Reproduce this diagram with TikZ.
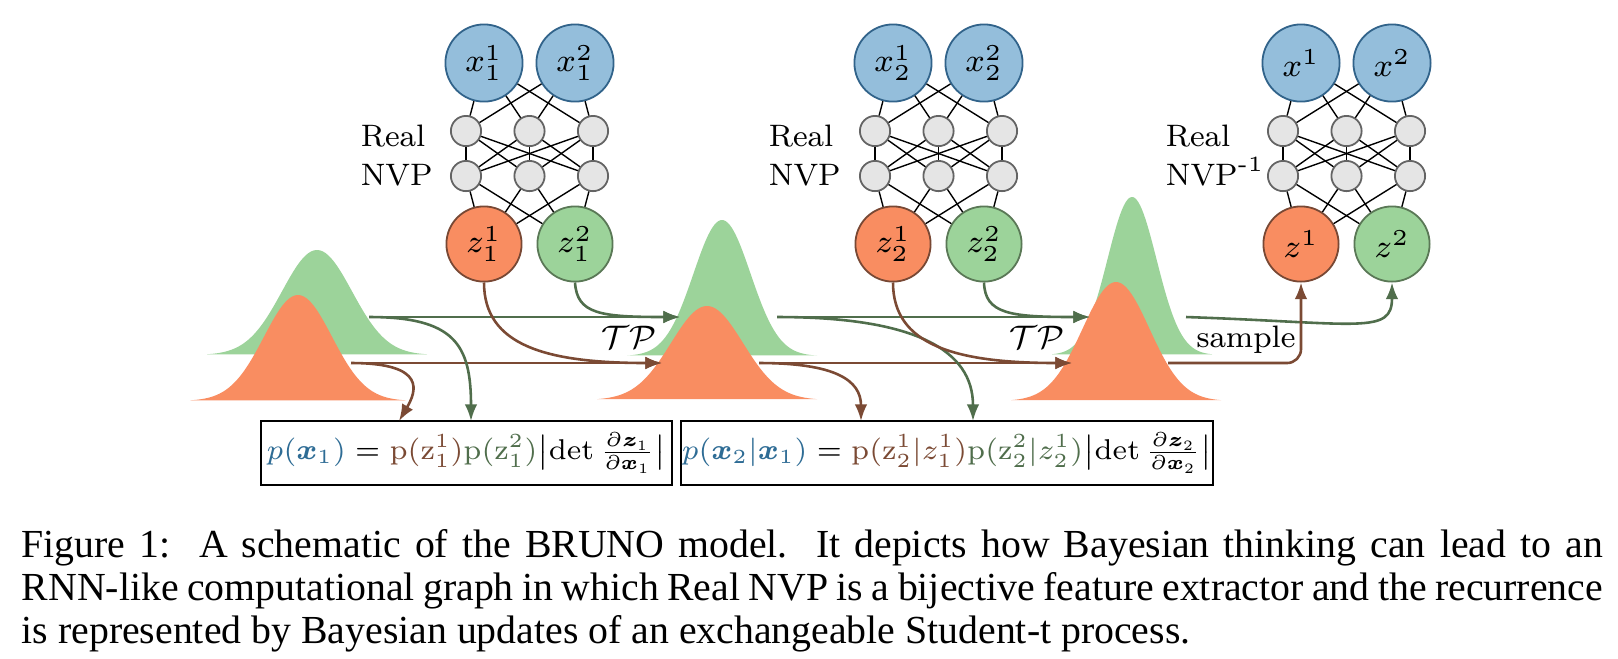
\RequirePackage{fix-cm}
\documentclass[tikz,border=0pt]{standalone}
\usepackage{amsmath,bm}
\usepackage{fontspec}
\newfontfamily\capfont{Liberation Serif}
\usetikzlibrary{arrows.meta}
\definecolor{bluefill}{RGB}{148,190,219}
\definecolor{blueline}{RGB}{49,99,138}
\definecolor{grayfill}{RGB}{229,229,229}
\definecolor{grayline}{RGB}{100,100,100}
\definecolor{orfill}{RGB}{249,141,97}
\definecolor{orline}{RGB}{120,72,52}
\definecolor{grfill}{RGB}{156,211,154}
\definecolor{grline}{RGB}{90,120,86}
\definecolor{brarrow}{RGB}{123,74,52}
\definecolor{grarrow}{RGB}{80,110,76}
\definecolor{bluetext}{RGB}{46,108,149}
\newcommand{\diagfont}{\fontsize{7.8}{9.4}\selectfont}
\newcommand{\labfont}{\fontsize{8.2}{9.8}\selectfont}
\newcommand{\eqfont}{\fontsize{7.2}{8.6}\selectfont}
\tikzset{
  xnode/.style={circle, fill=bluefill, draw=blueline, line width=0.45pt, minimum size=19.4pt, inner sep=0pt, font=\labfont},
  hnode/.style={circle, fill=grayfill, draw=grayline, line width=0.45pt, minimum size=7.6pt, inner sep=0pt},
  zanode/.style={circle, fill=orfill, draw=orline, line width=0.45pt, minimum size=18.9pt, inner sep=0pt, font=\labfont},
  zbnode/.style={circle, fill=grfill, draw=grline, line width=0.45pt, minimum size=18.9pt, inner sep=0pt, font=\labfont},
  nnline/.style={draw=black, line width=0.35pt},
  lbl/.style={anchor=base west, inner sep=0pt, font=\diagfont},
  grarr/.style={draw=grarrow, line width=0.65pt, -{Latex[length=4.2pt,width=3.2pt]}},
  brarr/.style={draw=brarrow, line width=0.65pt, -{Latex[length=4.2pt,width=3.2pt]}},
  eqbox/.style={draw=black, line width=0.4pt, inner sep=0pt, minimum height=16.1pt, font=\eqfont},
  capline/.style={anchor=base west, inner sep=0pt, font=\capfont\fontsize{10}{11}\selectfont},
}
% #1 prefix, #2 x of first node, #3 #4 x labels, #5 #6 z labels
\newcommand{\nnet}[6]{%
  \node[xnode] (#1xa) at (#2,63) {$#3$};
  \node[xnode] (#1xb) at ({#2+91},63) {$#4$};
  \foreach \i/\dx in {1/-18,2/45.5,3/109}{%
    \node[hnode] (#1h\i) at ({#2+\dx},131) {};
    \node[hnode] (#1g\i) at ({#2+\dx},176) {};
  }
  \node[zanode] (#1za) at (#2,244) {$#5$};
  \node[zbnode] (#1zb) at ({#2+91},244) {$#6$};
  \foreach \i in {1,2,3}{%
    \draw[nnline] (#1xa) -- (#1h\i);
    \draw[nnline] (#1xb) -- (#1h\i);
    \draw[nnline] (#1za) -- (#1g\i);
    \draw[nnline] (#1zb) -- (#1g\i);
    \foreach \j in {1,2,3}{\draw[nnline] (#1h\i) -- (#1g\j);}
  }
}
% #1 mu, #2 base, #3 amplitude, #4 sigma, #5 half range, #6 colour
\newcommand{\bump}[6]{%
  \fill[#6] plot[domain=-#5:#5, samples=90] ({#1+\x}, {#2-#3*exp(-(\x*\x)/(2*#4*#4))}) -- cycle;
}
\begin{document}
\begin{tikzpicture}[x=0.2514pt, y=-0.2514pt]
\fill[white] (0,0) rectangle (1618,658);
\path[use as bounding box] (0,0) rectangle (1618,658);

% distributions
\bump{317}{355}{105}{35}{110}{grfill}
\bump{298}{401}{106}{34}{108}{orfill}
\bump{722}{356}{136}{28.5}{95}{grfill}
\bump{707}{400}{94}{36}{110}{orfill}
\bump{1132}{355}{158}{24.5}{80}{grfill}
\bump{1116}{401}{119}{33.5}{105}{orfill}

% networks
\nnet{p1}{484}{x_1^1}{x_1^2}{z_1^1}{z_1^2}
\nnet{p2}{893}{x_2^1}{x_2^2}{z_2^1}{z_2^2}
\nnet{p3}{1301}{x^1}{x^2}{z^1}{z^2}

\node[lbl] (real1) at (360,146) {Real};
\node[lbl] (nvp1) at (360,185) {NVP};
\node[lbl] (real2) at (768,146) {Real};
\node[lbl] (nvp2) at (768,185) {NVP};
\node[lbl] (real3) at (1165,146) {Real};
\node[lbl] (nvp3) at (1165,185) {NVP\textsuperscript{-1}};

% boxes
\node[eqbox, minimum width=103.3pt] (box1) at (466.5,453)
  {${\color{bluetext}p(\bm{x}_1)} = {\color{brarrow}\mathrm{p}(\mathrm{z}_1^1)}{\color{grarrow}\mathrm{p}(\mathrm{z}_1^2)}\bigl|\det\frac{\partial\bm{z}_1}{\partial\bm{x}_1}\bigr|$};
\node[eqbox, minimum width=133.7pt] (box2) at (947,453)
  {${\color{bluetext}p(\bm{x}_2|\bm{x}_1)} = {\color{brarrow}\mathrm{p}(\mathrm{z}_2^1|z_1^1)}{\color{grarrow}\mathrm{p}(\mathrm{z}_2^2|z_2^1)}\bigl|\det\frac{\partial\bm{z}_2}{\partial\bm{x}_2}\bigr|$};

% connector end points
\coordinate (g1s) at (369,317);
\coordinate (b1s) at (351,363);
\coordinate (g1e) at (680,317);
\coordinate (b1e) at (662,363);
\coordinate (k1b) at (399,421);
\coordinate (k1g) at (471,421);
\coordinate (g2s) at (777,317);
\coordinate (b2s) at (759,363);
\coordinate (g2e) at (1090,317);
\coordinate (b2e) at (1072,363);
\coordinate (k2b) at (861,421);
\coordinate (k2g) at (973,421);
\coordinate (g3s) at (1186,317);
\coordinate (b3s) at (1168,363);

% stage 1
\draw[grarr] (g1s) -- (g1e);
\draw[brarr] (b1s) -- (b1e);
\draw[grarr] (g1s) .. controls (455,317) and (471,345) .. (k1g);
\draw[brarr] (b1s) .. controls (428,363) and (416,392) .. (k1b);
\draw[brarr] (p1za.south) .. controls (484,345) and (545,363) .. (b1e);
\draw[grarr] (p1zb.south) .. controls (577,314) and (600,317) .. (g1e);
\node[inner sep=0pt, anchor=base, font=\labfont] (tp1) at (629,348) {$\mathcal{TP}$};

% stage 2
\draw[grarr] (g2s) -- (g2e);
\draw[brarr] (b2s) -- (b2e);
\draw[grarr] (g2s) .. controls (915,317) and (973,350) .. (k2g);
\draw[brarr] (b2s) .. controls (835,363) and (861,380) .. (k2b);
\draw[brarr] (p2za.south) .. controls (893,345) and (955,363) .. (b2e);
\draw[grarr] (p2zb.south) .. controls (985,314) and (1010,317) .. (g2e);
\node[inner sep=0pt, anchor=base, font=\labfont] (tp2) at (1037,348) {$\mathcal{TP}$};

% sampling
\draw[grarr] (g3s) .. controls (1360,323) and (1392,335) .. (p3zb.south);
\draw[brarr, rounded corners=3.5pt] (b3s) -- (b3s -| p3za.south) -- (p3za.south);
\node[inner sep=0pt, anchor=base, font=\diagfont] (smp) at (1246,347) {sample};

% caption
\node[capline] (cap1) at (21,557) {\makebox[397.5pt][s]{Figure 1:\ \ A schematic of the BRUNO model.\ \ It depicts how Bayesian thinking can lead to an}};
\node[capline] (cap2) at (21,600) {\makebox[397.5pt][s]{RNN-like computational graph in which Real NVP is a bijective feature extractor and the recurrence}};
\node[capline] (cap3) at (21,643) {is represented by Bayesian updates of an exchangeable Student-t process.};
\end{tikzpicture}
\end{document}
